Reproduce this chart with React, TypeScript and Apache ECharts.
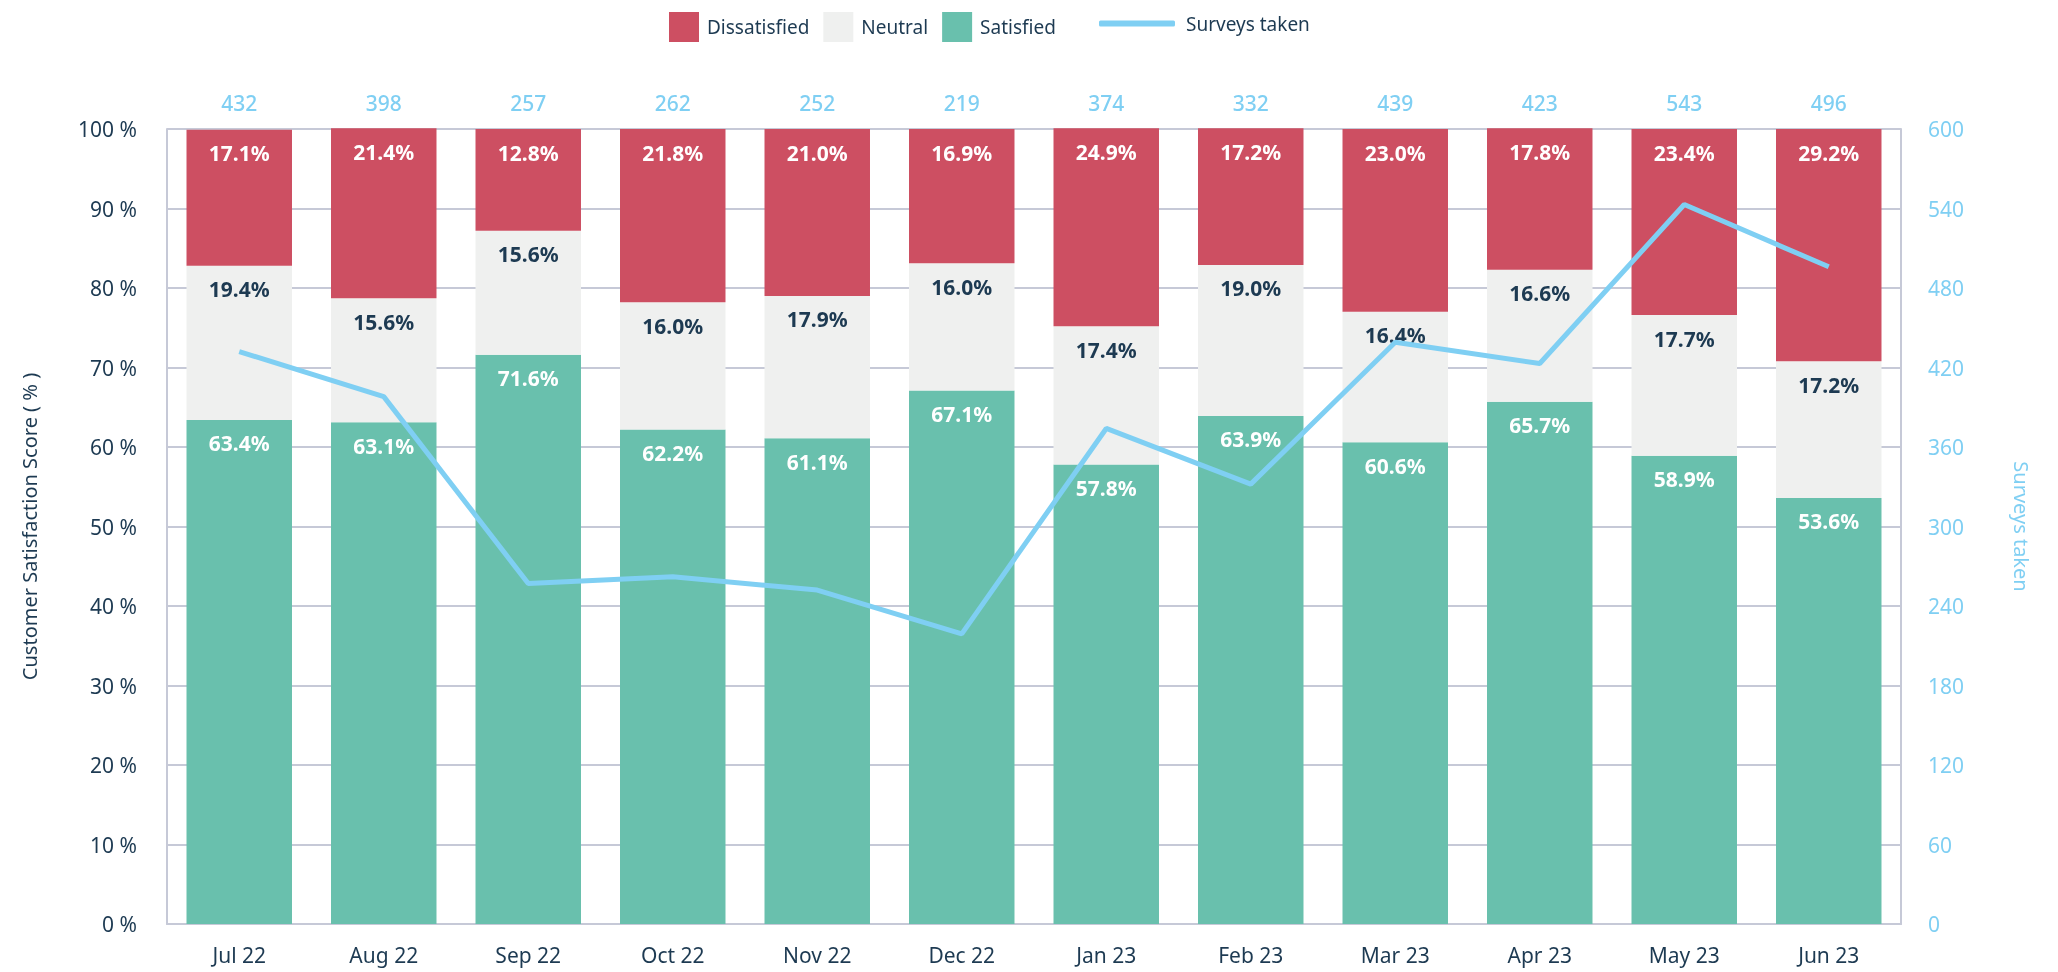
import React, { useEffect, useRef } from "react";
import * as echarts from "echarts";

const categories = ["Jul 22", "Aug 22", "Sep 22", "Oct 22", "Nov 22", "Dec 22", "Jan 23", "Feb 23", "Mar 23", "Apr 23", "May 23", "Jun 23"];
const dissatisfied = [17.1, 21.4, 12.8, 21.8, 21.0, 16.9, 24.9, 17.2, 23.0, 17.8, 23.4, 29.2];
const neutral = [19.4, 15.6, 15.6, 16.0, 17.9, 16.0, 17.4, 19.0, 16.4, 16.6, 17.7, 17.2];
const satisfied = [63.4, 63.1, 71.6, 62.2, 61.1, 67.1, 57.8, 63.9, 60.6, 65.7, 58.9, 53.6];
const surveys = [432, 398, 257, 262, 252, 219, 374, 332, 439, 423, 543, 496];

const FONT = "Noto Sans";
const DARK = "#1d3a52";
const BLUE = "#7fcff3";
const GRID = "#c6c9d7";

export default function App() {
  const ref = useRef<HTMLDivElement>(null);
  useEffect(() => {
    document.body.style.margin = "0";
    const chart = echarts.init(ref.current!, null, { renderer: "svg" });
    const barLabel = (color: string) => ({
      show: true,
      position: "insideTop" as const,
      distance: 13,
      color,
      fontFamily: FONT,
      fontSize: 21,
      fontWeight: "bold" as const,
      formatter: (p: any) => p.value.toFixed(1) + "%",
    });
    chart.setOption({
      animation: false,
      textStyle: { fontFamily: FONT },
      legend: [
        {
          left: 664,
          top: 7,
          icon: "rect",
          itemWidth: 30,
          itemHeight: 30,
          itemGap: 14,
          textStyle: { color: DARK, fontSize: 19, fontFamily: FONT, padding: [0, 0, 0, 3] },
          data: ["Dissatisfied", "Neutral", "Satisfied"],
        },
        {
          left: 1094,
          top: 9,
          icon: "roundRect",
          itemWidth: 76,
          itemHeight: 6,
          textStyle: { color: DARK, fontSize: 19, fontFamily: FONT, padding: [0, 0, 0, 6] },
          data: ["Surveys taken"],
        },
      ],
      grid: { left: 167, right: 157, top: 129, bottom: 48 },
      xAxis: [
        {
          type: "category",
          data: categories,
          axisLine: { show: true, lineStyle: { color: GRID, width: 2 } },
          axisTick: { show: false },
          axisLabel: { color: DARK, fontSize: 21, margin: 20, fontFamily: FONT },
        },
        {
          type: "category",
          position: "top",
          data: surveys.map(String),
          axisLine: { show: false },
          axisTick: { show: false },
          axisLabel: { color: BLUE, fontSize: 21, fontWeight: 500, margin: 16, fontFamily: FONT },
        },
      ],
      yAxis: [
        {
          type: "value",
          min: 0,
          max: 100,
          interval: 10,
          name: "Customer Satisfaction Score ( % )",
          nameLocation: "middle",
          nameGap: 128,
          nameTextStyle: { color: DARK, fontSize: 20, fontFamily: FONT },
          axisLine: { show: true, lineStyle: { color: GRID, width: 2 } },
          axisTick: { show: false },
          splitLine: { show: true, lineStyle: { color: GRID, width: 2 } },
          axisLabel: { color: DARK, fontSize: 21, margin: 30, formatter: "{value} %", fontFamily: FONT },
        },
        {
          type: "value",
          min: 0,
          max: 600,
          interval: 60,
          name: "Surveys taken",
          nameLocation: "middle",
          nameGap: 110,
          nameRotate: -90,
          nameTextStyle: { color: BLUE, fontSize: 20, fontFamily: FONT },
          axisLine: { show: true, lineStyle: { color: GRID, width: 2 } },
          axisTick: { show: false },
          splitLine: { show: false },
          axisLabel: { color: BLUE, fontSize: 21, margin: 27, fontFamily: FONT },
        },
      ],
      series: [
        {
          name: "Satisfied",
          type: "bar",
          stack: "s",
          clip: false,
          barCategoryGap: "27%",
          itemStyle: { color: "#69c0ad" },
          label: barLabel("#ffffff"),
          data: satisfied,
        },
        {
          name: "Neutral",
          type: "bar",
          stack: "s",
          clip: false,
          itemStyle: { color: "#eff0ef" },
          label: barLabel(DARK),
          data: neutral,
        },
        {
          name: "Dissatisfied",
          type: "bar",
          stack: "s",
          clip: false,
          itemStyle: { color: "#cd4f62" },
          label: barLabel("#ffffff"),
          data: dissatisfied,
        },
        {
          name: "Surveys taken",
          type: "line",
          yAxisIndex: 1,
          symbol: "none",
          lineStyle: { color: BLUE, width: 5 },
          itemStyle: { color: BLUE },
          data: surveys,
          z: 5,
        },
      ],
    });
    return () => chart.dispose();
  }, []);
  return <div ref={ref} style={{ position: "fixed", left: 0, top: 0, width: 2058, height: 972 }} />;
}
